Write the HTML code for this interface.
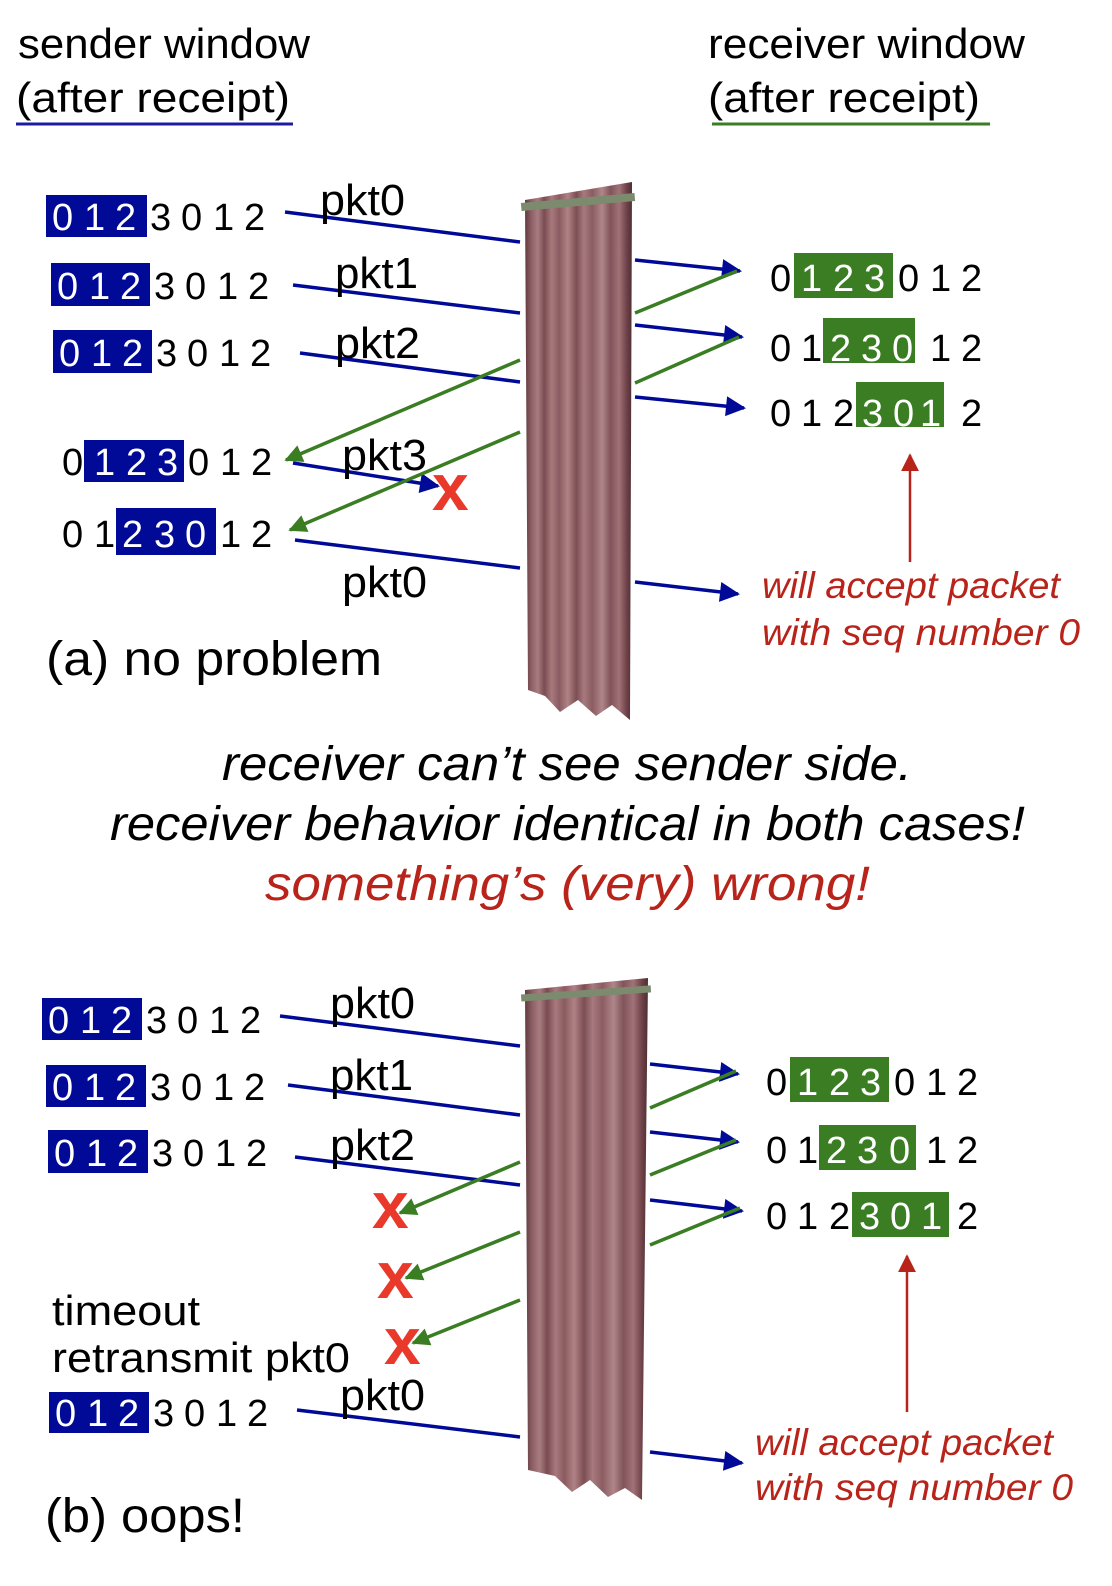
<!DOCTYPE html>
<html><head><meta charset="utf-8"><style>
html,body{margin:0;padding:0;background:#fff}
svg{display:block}
text{font-family:"Liberation Sans","DejaVu Sans",sans-serif}
.d{font-size:38px;fill:#000}
.w{fill:#fff}
.l{font-size:42px;fill:#000}
.p{font-size:44px;fill:#000}
.it{font-style:italic}
.x{font-size:66px;font-weight:bold;fill:#e8392a}
</style></head><body>
<svg width="1112" height="1586" viewBox="0 0 1112 1586" xmlns="http://www.w3.org/2000/svg">
<defs>
<linearGradient id="cg" x1="0" x2="1" y1="0" y2="0">
<stop offset="0" stop-color="#5e3a3e"/><stop offset="0.06" stop-color="#8f6066"/><stop offset="0.12" stop-color="#a77c80"/><stop offset="0.18" stop-color="#7a4c52"/><stop offset="0.25" stop-color="#a8797d"/><stop offset="0.32" stop-color="#8a5b60"/><stop offset="0.4" stop-color="#b08286"/><stop offset="0.48" stop-color="#7d4f55"/><stop offset="0.55" stop-color="#a67a7e"/><stop offset="0.63" stop-color="#8b5d62"/><stop offset="0.72" stop-color="#b0868a"/><stop offset="0.8" stop-color="#80545a"/><stop offset="0.88" stop-color="#a17378"/><stop offset="0.95" stop-color="#6e4248"/><stop offset="1" stop-color="#4e2e32"/>
</linearGradient>
<marker id="abl" viewBox="0 0 10 10" markerWidth="22" markerHeight="20" refX="9" refY="5" orient="auto" markerUnits="userSpaceOnUse"><path d="M0,0 L10,5 L0,10 z" fill="#000a96"/></marker>
<marker id="agl" viewBox="0 0 10 10" markerWidth="20" markerHeight="18" refX="9" refY="5" orient="auto" markerUnits="userSpaceOnUse"><path d="M0,0 L10,5 L0,10 z" fill="#3a7d22"/></marker>
<marker id="arl" viewBox="0 0 10 10" markerWidth="18" markerHeight="20" refX="9" refY="5" orient="auto" markerUnits="userSpaceOnUse"><path d="M0,0 L10,5 L0,10 z" fill="#b8231a"/></marker>
</defs>

<!-- headers -->
<text class="l" x="18" y="58" textLength="292" lengthAdjust="spacingAndGlyphs">sender window</text>
<text class="l" x="16" y="112" textLength="274" lengthAdjust="spacingAndGlyphs">(after receipt)</text>
<line x1="16" y1="124" x2="293" y2="124" stroke="#1c1ca0" stroke-width="3"/>
<text class="l" x="708" y="58" textLength="317" lengthAdjust="spacingAndGlyphs">receiver window</text>
<text class="l" x="708" y="112" textLength="272" lengthAdjust="spacingAndGlyphs">(after receipt)</text>
<line x1="712" y1="124" x2="990" y2="124" stroke="#3a7d22" stroke-width="3"/>

<!-- curtains -->
<path d="M525,200 L632,182 L630,720 L612,705 L596,716 L578,700 L560,712 L545,696 L528,690 Z" fill="url(#cg)"/>
<rect x="521" y="198" width="114" height="8" fill="#7c8a6e" transform="rotate(-5 578 202)"/>
<path d="M525,990 L648,978 L642,1500 L625,1488 L608,1497 L590,1480 L572,1492 L555,1476 L528,1470 Z" fill="url(#cg)"/>
<rect x="521" y="990" width="130" height="7" fill="#7c8a6e" transform="rotate(-4 585 993)"/>

<!-- TOP sender rows -->
<rect x="46" y="195" width="101" height="42" fill="#000a96"/>
<text class="d" y="230"><tspan class="w" x="52 84 115">012</tspan><tspan x="150 181 213 244">3012</tspan></text>
<rect x="51" y="263" width="99" height="43" fill="#000a96"/>
<text class="d" y="299"><tspan class="w" x="57 89 120">012</tspan><tspan x="154 185 217 248">3012</tspan></text>
<rect x="53" y="330" width="99" height="43" fill="#000a96"/>
<text class="d" y="366"><tspan class="w" x="59 91 122">012</tspan><tspan x="156 187 219 250">3012</tspan></text>
<rect x="84" y="440" width="100" height="42" fill="#000a96"/>
<text class="d" y="475"><tspan x="62">0</tspan><tspan class="w" x="94 126 157">123</tspan><tspan x="188 220 251">012</tspan></text>
<rect x="116" y="508" width="100" height="47" fill="#000a96"/>
<text class="d" y="547"><tspan x="62 94">01</tspan><tspan class="w" x="122 154 185">230</tspan><tspan x="220 251">12</tspan></text>

<!-- TOP receiver rows -->
<rect x="794" y="253" width="99" height="45" fill="#3a7d22"/>
<text class="d" y="291"><tspan x="770">0</tspan><tspan class="w" x="801 833 864">123</tspan><tspan x="898 930 961">012</tspan></text>
<rect x="823" y="318" width="92" height="45" fill="#3a7d22"/>
<text class="d" y="361"><tspan x="770 801">01</tspan><tspan class="w" x="830 861 892">230</tspan><tspan x="930 961">12</tspan></text>
<rect x="856" y="382" width="88" height="45" fill="#3a7d22"/>
<text class="d" y="426"><tspan x="770 801 833">012</tspan><tspan class="w" x="862 893 920">301</tspan><tspan x="961">2</tspan></text>

<!-- TOP lines -->
<g stroke-width="3.5" fill="none">
<line x1="285" y1="212" x2="520" y2="242" stroke="#000a96"/>
<line x1="293" y1="285" x2="520" y2="313" stroke="#000a96"/>
<line x1="300" y1="353" x2="520" y2="382" stroke="#000a96"/>
<line x1="295" y1="540" x2="520" y2="568" stroke="#000a96"/>
<line x1="293" y1="463" x2="438" y2="486" stroke="#000a96" marker-end="url(#abl)"/>
<line x1="520" y1="360" x2="286" y2="460" stroke="#3a7d22" marker-end="url(#agl)"/>
<line x1="520" y1="432" x2="290" y2="530" stroke="#3a7d22" marker-end="url(#agl)"/>
<line x1="635" y1="260" x2="740" y2="271" stroke="#000a96" marker-end="url(#abl)"/>
<line x1="635" y1="325" x2="742" y2="337" stroke="#000a96" marker-end="url(#abl)"/>
<line x1="635" y1="397" x2="744" y2="408" stroke="#000a96" marker-end="url(#abl)"/>
<line x1="635" y1="313" x2="737" y2="271" stroke="#3a7d22"/>
<line x1="635" y1="383" x2="739" y2="337" stroke="#3a7d22"/>
<line x1="635" y1="582" x2="738" y2="594" stroke="#000a96" marker-end="url(#abl)"/>
<line x1="910" y1="562" x2="910" y2="455" stroke="#b8231a" stroke-width="2.5" marker-end="url(#arl)"/>
</g>
<text class="p" x="320" y="215" textLength="85" lengthAdjust="spacingAndGlyphs">pkt0</text>
<text class="p" x="335" y="288" textLength="83" lengthAdjust="spacingAndGlyphs">pkt1</text>
<text class="p" x="335" y="358" textLength="85" lengthAdjust="spacingAndGlyphs">pkt2</text>
<text class="p" x="342" y="470" textLength="85" lengthAdjust="spacingAndGlyphs">pkt3</text>
<text class="p" x="342" y="597" textLength="85" lengthAdjust="spacingAndGlyphs">pkt0</text>
<text x="432" y="510" class="x">x</text>
<text x="762" y="598" class="it" style="font-size:37px;fill:#b8231a" textLength="298" lengthAdjust="spacingAndGlyphs">will accept packet</text>
<text x="762" y="645" class="it" style="font-size:37px;fill:#b8231a" textLength="318" lengthAdjust="spacingAndGlyphs">with seq number 0</text>
<text x="46" y="675" style="font-size:48px" textLength="336" lengthAdjust="spacingAndGlyphs">(a) no problem</text>

<!-- middle text -->
<text x="222" y="780" class="it" style="font-size:48px" textLength="690" lengthAdjust="spacingAndGlyphs">receiver can’t see sender side.</text>
<text x="110" y="840" class="it" style="font-size:48px" textLength="915" lengthAdjust="spacingAndGlyphs">receiver behavior identical in both cases!</text>
<text x="265" y="900" class="it" style="font-size:48px;fill:#b8231a" textLength="605" lengthAdjust="spacingAndGlyphs">something’s (very) wrong!</text>

<!-- BOTTOM sender rows -->
<rect x="42" y="998" width="100" height="42" fill="#000a96"/>
<text class="d" y="1033"><tspan class="w" x="48 80 111">012</tspan><tspan x="146 177 209 240">3012</tspan></text>
<rect x="46" y="1065" width="100" height="42" fill="#000a96"/>
<text class="d" y="1100"><tspan class="w" x="52 84 115">012</tspan><tspan x="150 181 213 244">3012</tspan></text>
<rect x="48" y="1130" width="100" height="43" fill="#000a96"/>
<text class="d" y="1166"><tspan class="w" x="54 86 117">012</tspan><tspan x="152 183 215 246">3012</tspan></text>
<rect x="49" y="1392" width="100" height="41" fill="#000a96"/>
<text class="d" y="1426"><tspan class="w" x="55 87 118">012</tspan><tspan x="153 184 216 247">3012</tspan></text>

<!-- BOTTOM receiver rows -->
<rect x="790" y="1057" width="99" height="45" fill="#3a7d22"/>
<text class="d" y="1095"><tspan x="766">0</tspan><tspan class="w" x="797 829 860">123</tspan><tspan x="894 926 957">012</tspan></text>
<rect x="819" y="1125" width="97" height="45" fill="#3a7d22"/>
<text class="d" y="1163"><tspan x="766 797">01</tspan><tspan class="w" x="826 857 889">230</tspan><tspan x="926 957">12</tspan></text>
<rect x="852" y="1192" width="97" height="45" fill="#3a7d22"/>
<text class="d" y="1229"><tspan x="766 797 829">012</tspan><tspan class="w" x="859 890 921">301</tspan><tspan x="957">2</tspan></text>

<!-- BOTTOM lines -->
<g stroke-width="3.5" fill="none">
<line x1="280" y1="1016" x2="520" y2="1046" stroke="#000a96"/>
<line x1="288" y1="1085" x2="520" y2="1115" stroke="#000a96"/>
<line x1="295" y1="1157" x2="520" y2="1185" stroke="#000a96"/>
<line x1="297" y1="1410" x2="520" y2="1437" stroke="#000a96"/>
<line x1="520" y1="1162" x2="400" y2="1213" stroke="#3a7d22" marker-end="url(#agl)"/>
<line x1="520" y1="1232" x2="406" y2="1278" stroke="#3a7d22" marker-end="url(#agl)"/>
<line x1="520" y1="1300" x2="413" y2="1343" stroke="#3a7d22" marker-end="url(#agl)"/>
<line x1="650" y1="1064" x2="738" y2="1074" stroke="#000a96" marker-end="url(#abl)"/>
<line x1="650" y1="1132" x2="738" y2="1142" stroke="#000a96" marker-end="url(#abl)"/>
<line x1="650" y1="1200" x2="742" y2="1211" stroke="#000a96" marker-end="url(#abl)"/>
<line x1="650" y1="1108" x2="736" y2="1071" stroke="#3a7d22"/>
<line x1="650" y1="1175" x2="736" y2="1140" stroke="#3a7d22"/>
<line x1="650" y1="1245" x2="740" y2="1208" stroke="#3a7d22"/>
<line x1="650" y1="1452" x2="742" y2="1463" stroke="#000a96" marker-end="url(#abl)"/>
<line x1="907" y1="1412" x2="907" y2="1256" stroke="#b8231a" stroke-width="2.5" marker-end="url(#arl)"/>
</g>
<text class="p" x="330" y="1018" textLength="85" lengthAdjust="spacingAndGlyphs">pkt0</text>
<text class="p" x="330" y="1090" textLength="83" lengthAdjust="spacingAndGlyphs">pkt1</text>
<text class="p" x="330" y="1160" textLength="85" lengthAdjust="spacingAndGlyphs">pkt2</text>
<text class="p" x="340" y="1410" textLength="85" lengthAdjust="spacingAndGlyphs">pkt0</text>
<text x="372" y="1228" class="x">x</text>
<text x="377" y="1298" class="x">x</text>
<text x="384" y="1364" class="x">x</text>
<text class="l" x="52" y="1325" textLength="148" lengthAdjust="spacingAndGlyphs">timeout</text>
<text class="l" x="52" y="1372" textLength="298" lengthAdjust="spacingAndGlyphs">retransmit pkt0</text>
<text x="755" y="1455" class="it" style="font-size:37px;fill:#b8231a" textLength="298" lengthAdjust="spacingAndGlyphs">will accept packet</text>
<text x="755" y="1500" class="it" style="font-size:37px;fill:#b8231a" textLength="318" lengthAdjust="spacingAndGlyphs">with seq number 0</text>
<text x="45" y="1532" style="font-size:48px" textLength="200" lengthAdjust="spacingAndGlyphs">(b) oops!</text>
</svg>
</body></html>
